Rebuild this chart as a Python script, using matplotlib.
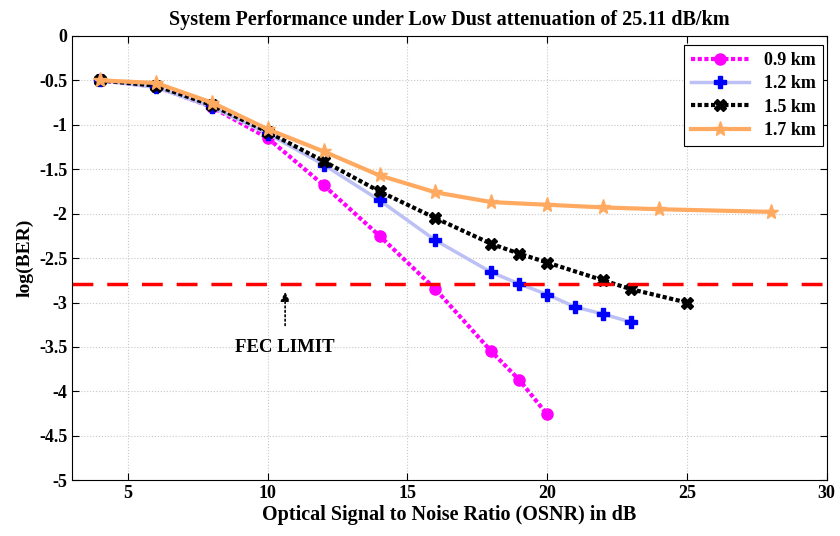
import matplotlib
matplotlib.use('Agg')
import matplotlib.pyplot as plt

plt.rcParams['font.family'] = 'Liberation Serif'
plt.rcParams['font.weight'] = 'bold'

# data
x_09 = [4, 6, 8, 10, 12, 14, 16, 18, 19, 20]
y_09 = [-0.5, -0.57, -0.8, -1.15, -1.68, -2.25, -2.85, -3.55, -3.87, -4.26]

x_12 = [4, 6, 8, 10, 12, 14, 16, 18, 19, 20, 21, 22, 23]
y_12 = [-0.5, -0.58, -0.8, -1.1, -1.45, -1.85, -2.3, -2.66, -2.79, -2.91, -3.05, -3.13, -3.22]

x_15 = [4, 6, 8, 10, 12, 14, 16, 18, 19, 20, 22, 23, 25]
y_15 = [-0.5, -0.56, -0.78, -1.08, -1.41, -1.75, -2.05, -2.34, -2.45, -2.55, -2.75, -2.85, -3.0]

x_17 = [4, 6, 8, 10, 12, 14, 16, 18, 20, 22, 24, 28]
y_17 = [-0.5, -0.53, -0.75, -1.05, -1.3, -1.57, -1.76, -1.87, -1.9, -1.93, -1.95, -1.98]

fec = -2.79

fig = plt.figure(figsize=(8.4, 5.36), dpi=100)
ax = fig.add_axes([0.086, 0.104, 0.898, 0.829])

ax.plot(x_09, y_09, color='#ff00ff', linestyle=(0, (1, 0.6)), linewidth=3, marker='o',
        markersize=8, label='0.9 km')
ax.plot(x_12, y_12, color='#bcc0f4', linestyle='-', linewidth=2.5, marker='P',
        markersize=9, markerfacecolor='#0000ff', markeredgecolor='#0000ff', label='1.2 km')
ax.plot(x_15, y_15, color='black', linestyle=(0, (1, 0.6)), linewidth=3, marker='X',
        markersize=8, label='1.5 km')
ax.plot(x_17, y_17, color='#ffaa60', linestyle='-', linewidth=3, marker='*',
        markersize=11, label='1.7 km')

ax.axhline(fec, color='red', linestyle=(0, (6, 4)), linewidth=2.5)

ax.annotate('FEC LIMIT', xy=(10.62, -2.88), xytext=(10.62, -3.51),
            ha='center', va='center', fontsize=13.5, fontweight='bold',
            arrowprops=dict(arrowstyle='-|>', color='black', linestyle=':',
                            linewidth=1.2, shrinkA=8, shrinkB=0))

ax.set_xlim(3, 30)
ax.set_ylim(-5, 0)
ax.set_xticks([5, 10, 15, 20, 25, 30])
ax.set_yticks([0, -0.5, -1, -1.5, -2, -2.5, -3, -3.5, -4, -4.5, -5])
ax.set_yticklabels(['0', '-0.5', '-1', '-1.5', '-2', '-2.5', '-3', '-3.5', '-4', '-4.5', '-5'])
ax.tick_params(direction='in', top=True, right=True, labelsize=13, length=5)
ax.grid(True, color='#c8c8c8', linestyle=':', linewidth=0.8)

ax.set_title('System Performance under Low Dust attenuation of 25.11 dB/km',
             fontsize=14.5, fontweight='bold', pad=8)
ax.set_xlabel('Optical Signal to Noise Ratio (OSNR) in dB', fontsize=14.5, fontweight='bold',
              labelpad=2)
ax.set_ylabel('log(BER)', fontsize=14, fontweight='bold', labelpad=4)

leg = ax.legend(loc='upper right', bbox_to_anchor=(0.995, 0.98), borderaxespad=0,
                fontsize=13, fancybox=False, framealpha=1, edgecolor='black',
                handlelength=3.2, numpoints=1, borderpad=0.4, labelspacing=0.35)
leg.get_frame().set_linewidth(0.8)

fig.savefig('out.png', dpi=100)
